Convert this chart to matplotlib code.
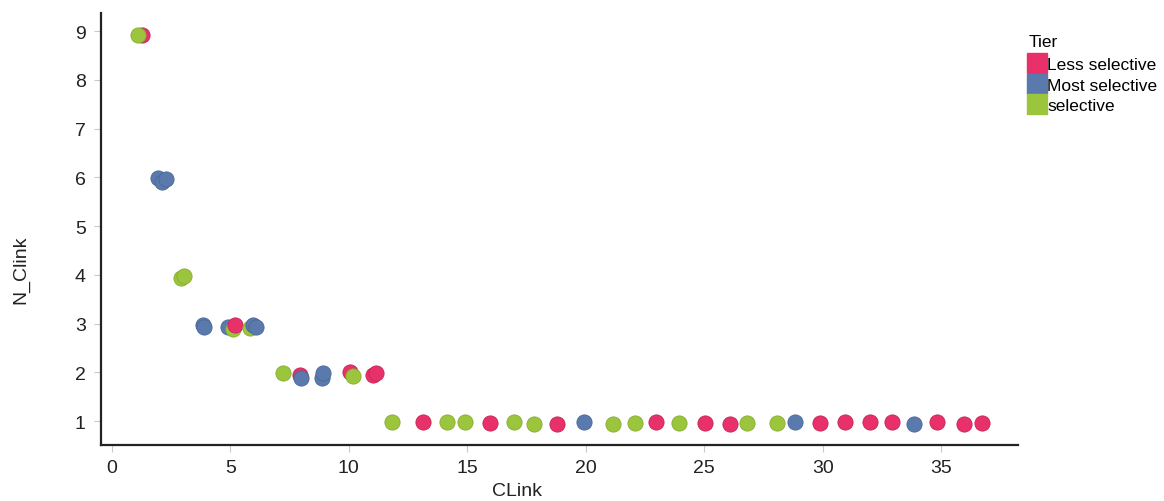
import matplotlib
matplotlib.use("Agg")
import matplotlib.pyplot as plt
from matplotlib.lines import Line2D

plt.rcParams['font.family'] = ['Liberation Sans', 'DejaVu Sans']

# Jittered observations: CLink position, N_Clink count, tier
clink = [
    1.28, 1.11,
    1.96, 2.10, 2.28,
    2.90, 3.04,
    3.85, 3.90, 4.89, 5.12, 5.20, 5.83, 5.97, 6.09,
    7.21, 7.95, 8.00, 8.86, 8.93, 10.03, 10.17, 11.04, 11.13,
    11.83, 13.14, 14.13, 14.89, 15.95, 16.99, 17.81, 18.79, 19.92,
    21.16, 22.10, 22.98, 23.93, 25.02, 26.08, 26.82, 28.06, 28.82,
    29.89, 30.93, 32.00, 32.95, 33.84, 34.82, 35.95, 36.71,
]
n_clink = [
    8.92, 8.92,
    5.98, 5.91, 5.96,
    3.94, 3.98,
    2.97, 2.92, 2.94, 2.89, 2.98, 2.90, 2.98, 2.94,
    1.98, 1.94, 1.89, 1.89, 1.98, 2.00, 1.93, 1.94, 1.98,
    0.973, 0.973, 0.973, 0.986, 0.959, 0.973, 0.938, 0.938, 0.973,
    0.938, 0.959, 0.986, 0.959, 0.959, 0.938, 0.959, 0.959, 0.973,
    0.959, 0.986, 0.973, 0.986, 0.938, 0.986, 0.938, 0.959,
]
tier = [
    "Less selective", "selective",
    "Most selective", "Most selective", "Most selective",
    "selective", "selective",
    "Most selective", "Most selective", "Most selective", "selective",
    "Less selective", "selective", "Most selective", "Most selective",
    "selective", "Less selective", "Most selective", "Most selective",
    "Most selective", "Less selective", "selective", "Less selective",
    "Less selective",
    "selective", "Less selective", "selective", "selective", "Less selective",
    "selective", "selective", "Less selective", "Most selective",
    "selective", "selective", "Less selective", "selective", "Less selective",
    "Less selective", "selective", "selective", "Most selective",
    "Less selective", "Less selective", "Less selective", "Less selective",
    "Most selective", "Less selective", "Less selective", "Less selective",
]

tiers = ["Less selective", "Most selective", "selective"]
colors = {"Less selective": "#E8306B", "Most selective": "#5A7AAE",
          "selective": "#9BC53D"}
edges = {"Less selective": "#C42558", "Most selective": "#4A6896",
         "selective": "#86AD30"}

fig = plt.figure(figsize=(11.64, 5.02), dpi=100)
ax = fig.add_axes([0.0868, 0.1116, 0.7878, 0.8604])

for x, y, t in zip(clink, n_clink, tier):
    ax.scatter(x, y, s=120, color=colors[t], edgecolors=edges[t],
               linewidths=0.6, zorder=3)

ax.set_xlim(-0.46, 38.25)
ax.set_ylim(0.51, 9.37)
ax.set_xticks([0, 5, 10, 15, 20, 25, 30, 35])
ax.set_yticks(range(1, 10))
ax.tick_params(axis='both', colors='#C8C8C8', length=5, width=0.8,
               labelsize=14, labelcolor='#222222', direction='out')
ax.tick_params(axis='x', pad=5)
ax.tick_params(axis='y', pad=6)

for side in ["top", "right"]:
    ax.spines[side].set_visible(False)
for side in ["left", "bottom"]:
    ax.spines[side].set_color("#222222")
    ax.spines[side].set_linewidth(1.6)

# Axis titles placed in figure coordinates
fig.text(517 / 1164, 1 - 492 / 502, "CLink", fontsize=14, color="#222222",
         ha="center", va="center")
fig.text(21 / 1164, 1 - 270 / 502, "N_Clink", fontsize=14, color="#222222",
         ha="center", va="center", rotation=90)

handles = [Line2D([], [], marker='s', linestyle='none', markersize=15,
                  markerfacecolor=colors[t], markeredgecolor=colors[t])
           for t in tiers]
leg = fig.legend(handles, tiers, title="Tier", loc="upper left",
                 bbox_to_anchor=(0.878, 0.945), frameon=False, fontsize=12.5,
                 title_fontsize=12.5, handlelength=0.9, handletextpad=0.15,
                 labelspacing=0.32, borderaxespad=0.0)
leg._legend_box.align = "left"
leg._legend_box.sep = 6

fig.savefig("out.png", dpi=100)
